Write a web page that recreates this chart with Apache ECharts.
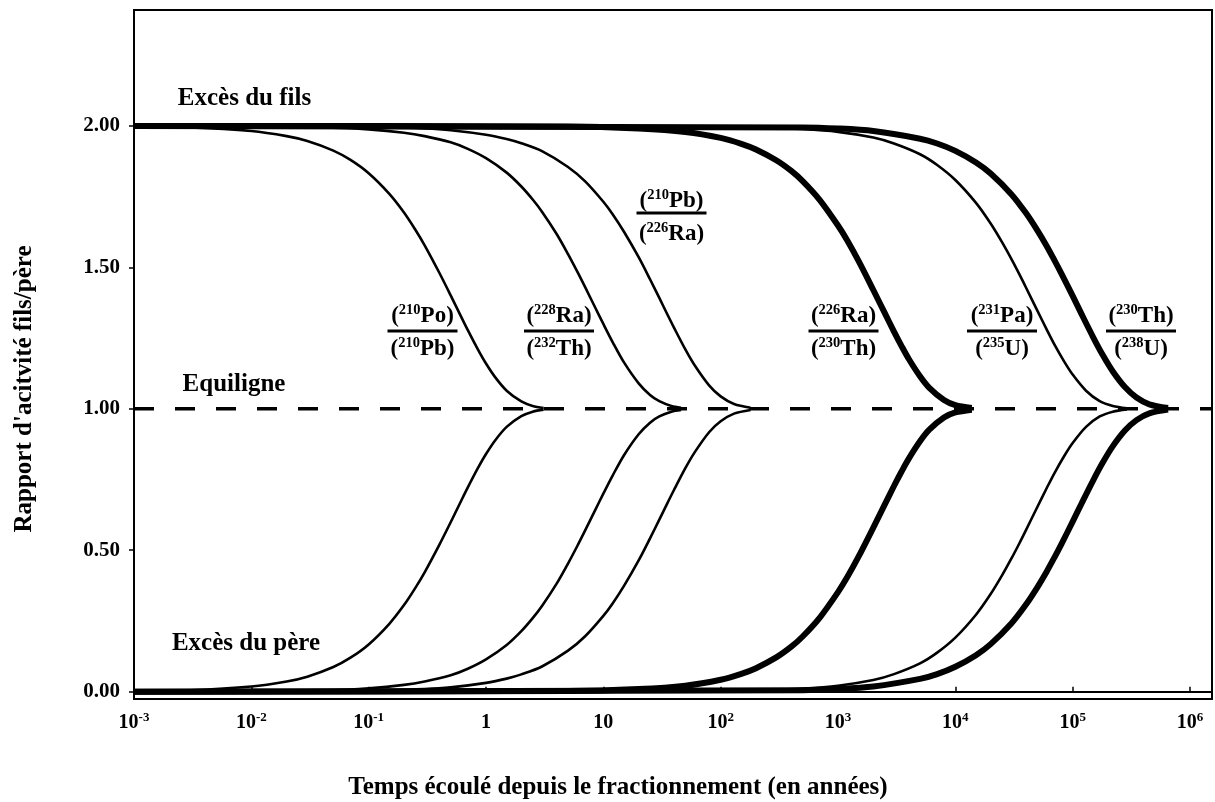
<!DOCTYPE html>
<html>
<head>
<meta charset="utf-8">
<script src="https://cdn.jsdelivr.net/npm/echarts@6/dist/echarts.min.js"></script>
<style>html,body{margin:0;padding:0;background:#fff}#c{width:1215px;height:802px}</style>
</head>
<body>
<div id="c"></div>
<script>
// ---- data (time in years, activity ratio daughter/parent) ----
const poT   = [0.001, 0.003, 0.01, 0.02, 0.03, 0.05, 0.07, 0.1, 0.15, 0.2, 0.25, 0.3, 0.4, 0.5, 0.6, 0.7, 0.85, 1, 1.2, 1.5, 2, 2.5, 3.1];
const poUp  = [1.998, 1.995, 1.982, 1.964, 1.947, 1.913, 1.880, 1.833, 1.760, 1.694, 1.633, 1.578, 1.481, 1.401, 1.334, 1.278, 1.211, 1.160, 1.111, 1.064, 1.026, 1.010, 1.003];
const poLow = [0.002, 0.005, 0.018, 0.036, 0.053, 0.087, 0.120, 0.167, 0.240, 0.306, 0.367, 0.422, 0.519, 0.599, 0.666, 0.722, 0.789, 0.840, 0.889, 0.936, 0.974, 0.990, 0.997];

const ra228T   = [0.001, 0.05, 0.1, 0.2, 0.3, 0.5, 0.7, 1, 1.5, 2, 2.5, 3, 4, 5, 6, 7, 8.5, 10, 12, 15, 20, 25, 30, 38, 46];
const ra228Up  = [2.000, 1.994, 1.988, 1.976, 1.964, 1.942, 1.919, 1.886, 1.835, 1.786, 1.740, 1.697, 1.618, 1.547, 1.485, 1.430, 1.359, 1.300, 1.236, 1.164, 1.090, 1.049, 1.027, 1.010, 1.004];
const ra228Low = [0.000, 0.006, 0.012, 0.024, 0.036, 0.058, 0.081, 0.114, 0.165, 0.214, 0.260, 0.303, 0.382, 0.453, 0.515, 0.570, 0.641, 0.700, 0.764, 0.836, 0.910, 0.951, 0.973, 0.990, 0.996];

const pbT   = [0.001, 0.1, 0.3, 0.5, 1, 1.5, 2, 3, 5, 7, 10, 12, 15, 20, 25, 30, 35, 40, 50, 60, 80, 100, 130, 180];
const pbUp  = [2.000, 1.997, 1.991, 1.985, 1.969, 1.954, 1.939, 1.911, 1.855, 1.804, 1.732, 1.688, 1.626, 1.536, 1.458, 1.392, 1.335, 1.287, 1.210, 1.154, 1.082, 1.044, 1.017, 1.004];
const pbLow = [0.000, 0.003, 0.009, 0.015, 0.031, 0.046, 0.061, 0.089, 0.145, 0.196, 0.268, 0.312, 0.374, 0.464, 0.542, 0.608, 0.665, 0.713, 0.790, 0.846, 0.918, 0.956, 0.983, 0.996];

const ra226T   = [0.001, 5, 20, 50, 100, 150, 200, 300, 400, 500, 700, 1000, 1200, 1500, 2000, 2500, 3000, 3500, 4000, 5000, 6000, 8000, 10000, 13800];
const ra226Up  = [2.000, 1.998, 1.991, 1.979, 1.958, 1.937, 1.917, 1.878, 1.841, 1.805, 1.738, 1.648, 1.595, 1.522, 1.420, 1.339, 1.273, 1.220, 1.177, 1.115, 1.074, 1.031, 1.013, 1.003];
const ra226Low = [0.000, 0.002, 0.009, 0.021, 0.042, 0.063, 0.083, 0.122, 0.159, 0.195, 0.262, 0.352, 0.405, 0.478, 0.580, 0.661, 0.727, 0.780, 0.823, 0.885, 0.926, 0.969, 0.987, 0.997];

const paT   = [0.001, 200, 500, 1000, 2000, 3000, 5000, 7000, 10000, 15000, 20000, 25000, 30000, 35000, 40000, 50000, 60000, 70000, 85000, 100000, 130000, 170000, 220000, 290000];
const paUp  = [2.000, 1.996, 1.989, 1.979, 1.959, 1.938, 1.900, 1.862, 1.809, 1.728, 1.655, 1.589, 1.530, 1.477, 1.429, 1.347, 1.281, 1.227, 1.166, 1.121, 1.064, 1.027, 1.010, 1.002];
const paLow = [0.000, 0.004, 0.011, 0.021, 0.041, 0.062, 0.100, 0.138, 0.191, 0.272, 0.345, 0.411, 0.470, 0.523, 0.571, 0.653, 0.719, 0.773, 0.834, 0.879, 0.936, 0.973, 0.990, 0.998];

const thT   = [0.001, 500, 1000, 2000, 5000, 7000, 10000, 15000, 20000, 30000, 40000, 50000, 60000, 70000, 80000, 100000, 120000, 150000, 180000, 220000, 280000, 350000, 450000, 650000];
const thUp  = [2.000, 1.995, 1.991, 1.982, 1.955, 1.938, 1.912, 1.871, 1.832, 1.759, 1.692, 1.631, 1.576, 1.525, 1.479, 1.399, 1.332, 1.252, 1.191, 1.132, 1.076, 1.040, 1.016, 1.003];
const thLow = [0.000, 0.005, 0.009, 0.018, 0.045, 0.062, 0.088, 0.129, 0.168, 0.241, 0.308, 0.369, 0.424, 0.475, 0.521, 0.601, 0.668, 0.748, 0.809, 0.868, 0.924, 0.960, 0.984, 0.997];

const equiligne = 1.0;
const xMin = 0.001, xMax = 1.54e6;
const yMin = -0.026, yMax = 2.41;
const yTicks = [0, 0.5, 1, 1.5, 2];
const xTickExponents = [-3, -2, -1, 0, 1, 2, 3, 4, 5, 6];

// ---- styling ----
const FF = '"Liberation Serif", "Times New Roman", serif';
const THIN = 2.6, THICK = 6;

function pairs(t, v) { return t.map((x, i) => [x, v[i]]); }
function curve(t, v, w) {
  return {
    type: 'line', data: pairs(t, v), showSymbol: false, smooth: 0.3,
    lineStyle: { color: '#000', width: w, join: 'round', cap: 'butt' }, silent: true, z: 3
  };
}

const curves = [
  [poT, poUp, poLow, THIN],
  [ra228T, ra228Up, ra228Low, THIN],
  [pbT, pbUp, pbLow, THIN],
  [ra226T, ra226Up, ra226Low, THICK],
  [paT, paUp, paLow, THIN],
  [thT, thUp, thLow, THICK]
];
const series = [];
curves.forEach(c => { series.push(curve(c[0], c[1], c[3])); series.push(curve(c[0], c[2], c[3])); });
series.push({
  type: 'line', data: [[xMin, equiligne], [xMax, equiligne]], showSymbol: false, silent: true, z: 2,
  lineStyle: { color: '#000', width: 3.5, type: [20, 21] }
});

const supRich = {
  b: { fontFamily: FF, fontWeight: 'bold', fontSize: 20, color: '#000', lineHeight: 24 },
  s: { fontFamily: FF, fontWeight: 'bold', fontSize: 13, color: '#000', lineHeight: 17, verticalAlign: 'top' }
};

// fraction labels: [numMass, numEl, denMass, denEl, cx, yNum, yLine, yDen]
const fracs = [
  ['210', 'Po', '210', 'Pb', 422.5, 316, 331, 349],
  ['228', 'Ra', '232', 'Th', 559, 316, 331, 349],
  ['210', 'Pb', '226', 'Ra', 671.5, 201, 213, 234],
  ['226', 'Ra', '230', 'Th', 843.5, 316, 331, 349],
  ['231', 'Pa', '235', 'U', 1002, 316, 331, 349],
  ['230', 'Th', '238', 'U', 1141, 316, 331, 349]
];
const fracRich = {
  p: { fontFamily: FF, fontWeight: 'bold', fontSize: 23, color: '#000', lineHeight: 26 },
  s: { fontFamily: FF, fontWeight: 'bold', fontSize: 14.5, color: '#000', lineHeight: 18, verticalAlign: 'top' }
};
const graphics = [];
fracs.forEach(f => {
  graphics.push({ type: 'text', x: f[4], y: f[5], style: { text: '{p|(}{s|' + f[0] + '}{p|' + f[1] + ')}', rich: fracRich, align: 'center', verticalAlign: 'middle' } });
  graphics.push({ type: 'line', shape: { x1: f[4] - 35, y1: f[6], x2: f[4] + 35, y2: f[6] }, style: { stroke: '#000', lineWidth: 3 } });
  graphics.push({ type: 'text', x: f[4], y: f[7], style: { text: '{p|(}{s|' + f[2] + '}{p|' + f[3] + ')}', rich: fracRich, align: 'center', verticalAlign: 'middle' } });
});
function txt(s, x, y, size, rot) {
  return { type: 'text', x: x, y: y, rotation: rot || 0,
    style: { text: s, font: 'bold ' + size + 'px ' + FF, fill: '#000', align: 'center', verticalAlign: 'middle' } };
}
graphics.push(txt('Excès du fils', 244.5, 99, 25));
graphics.push(txt('Excès du père', 246, 644, 25));
graphics.push(txt('Equiligne', 234, 385, 25));
graphics.push(txt('Temps écoulé depuis le fractionnement (en années)', 618, 788, 25));
graphics.push(txt('Rapport d\'acitvité fils/père', 25, 389, 25, Math.PI / 2));

const chart = echarts.init(document.getElementById('c'), null, { renderer: 'canvas' });
chart.setOption({
  animation: false,
  backgroundColor: '#fff',
  grid: { left: 134, right: 2, top: 10, bottom: 103, show: true, borderColor: '#000', borderWidth: 2, containLabel: false },
  xAxis: {
    type: 'log', logBase: 10, min: xMin, max: xMax, interval: 1,
    axisLine: { show: true, lineStyle: { color: '#000', width: 2 } },
    axisTick: { show: true, inside: true, length: 5, lineStyle: { color: '#000', width: 1.5 } },
    splitLine: { show: false }, minorTick: { show: false },
    axisLabel: {
      margin: 12, showMaxLabel: true, showMinLabel: true, rich: supRich,
      formatter: function (v) {
        const l = Math.log10(v); const e = Math.round(l);
        if (Math.abs(l - e) > 1e-6 || xTickExponents.indexOf(e) < 0) return '';
        if (e === 0) return '{b|1}';
        if (e === 1) return '{b|10}';
        return '{b|10}{s|' + e + '}';
      }
    }
  },
  yAxis: {
    type: 'value', min: yMin, max: yMax,
    axisLine: { show: true, lineStyle: { color: '#000', width: 2 } },
    axisTick: { show: true, inside: false, length: 5, customValues: yTicks, lineStyle: { color: '#000', width: 1.5 } },
    splitLine: { show: false },
    axisLabel: {
      customValues: yTicks, margin: 14, fontFamily: FF, fontWeight: 'bold', fontSize: 21, color: '#000',
      formatter: v => v.toFixed(2)
    }
  },
  series: series,
  graphic: graphics
});
</script>
</body>
</html>
